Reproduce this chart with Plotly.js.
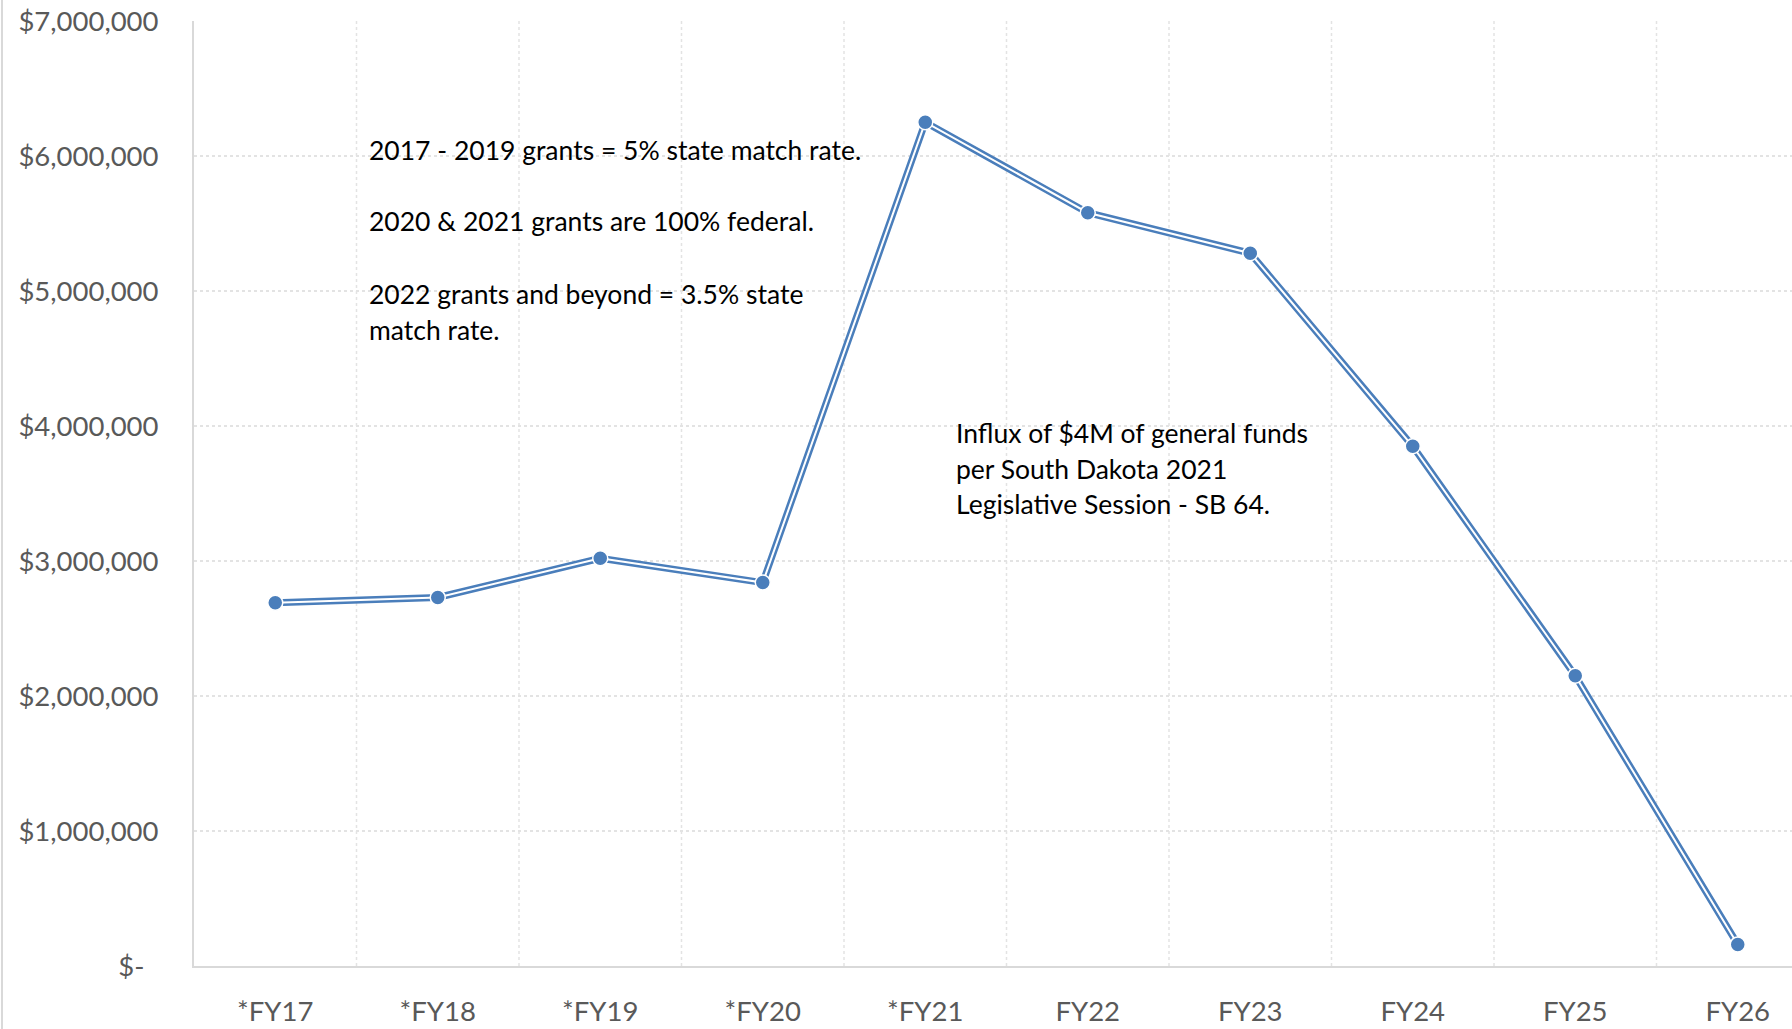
<!DOCTYPE html>
<html><head><meta charset="utf-8">
<script src="https://cdn.plot.ly/plotly-3.0.1.min.js"></script>
<style>html,body{margin:0;padding:0;background:#fff}#chart{width:1792px;height:1029px}</style>
</head><body><div id="chart"></div>
<script>
const categories = ["*FY17","*FY18","*FY19","*FY20","*FY21","FY22","FY23","FY24","FY25","FY26"];
const values = [2690000, 2730000, 3020000, 2840000, 6250000, 5580000, 5280000, 3850000, 2150000, 160000];
const yTickVals = [0,1000000,2000000,3000000,4000000,5000000,6000000,7000000];
const yTickText = ["$-\u00A0\u00A0","$1,000,000","$2,000,000","$3,000,000","$4,000,000","$5,000,000","$6,000,000","$7,000,000"];
const noteLines1 = ["2017 - 2019 grants = 5% state match rate.","2020 & 2021 grants are 100% federal.","2022 grants and beyond = 3.5% state","match rate."];
const noteLines2 = ["Influx of $4M of general funds","per South Dakota 2021","Legislative Session - SB 64."];

const blue = "#4a7ebb";
const xIdx = categories.map((c,i)=>i);
const traces = [
  {x:xIdx, y:values, mode:"lines", line:{color:blue, width:7}, hoverinfo:"skip", showlegend:false},
  {x:xIdx, y:values, mode:"lines", line:{color:"#ffffff", width:2}, hoverinfo:"skip", showlegend:false},
  {x:xIdx, y:values, mode:"markers", marker:{color:blue, size:15, line:{color:"#ffffff", width:1.5}}, showlegend:false}
];

const fontFam = "Lato, 'Open Sans', sans-serif";
const L = 194, catW = 162.5;
const px2x = p => -0.5 + (p - L)/catW;
const py2y = p => (966 - p)/135*1e6;

const ann = [];
const n1y = [150, 221, 294, 330];
noteLines1.forEach((t,i)=>ann.push({text:t, x:px2x(367), y:py2y(n1y[i]), xref:"x", yref:"y", xanchor:"left", yanchor:"middle", showarrow:false, font:{family:fontFam, size:26.5, color:"#000"}}));
const n2y = [433, 469, 504];
noteLines2.forEach((t,i)=>ann.push({text:t, x:px2x(954), y:py2y(n2y[i]), xref:"x", yref:"y", xanchor:"left", yanchor:"middle", showarrow:false, font:{family:fontFam, size:26.5, color:"#000"}}));

const layout = {
  width:1792, height:1029,
  margin:{l:194, r:0, t:21, b:63},
  paper_bgcolor:"#fff", plot_bgcolor:"#fff",
  font:{family:fontFam, color:"#595959"},
  xaxis:{
    range:[-0.5, -0.5 + (1792-194)/catW],
    tickvals:xIdx, ticktext:categories,
    showgrid:false, zeroline:false,
    showline:true, linecolor:"#d9d9d9", linewidth:2,
    ticks:"", tickfont:{size:27.5, color:"#595959", family:fontFam},
    ticklabelstandoff:20, fixedrange:true
  },
  yaxis:{
    range:[0,7000000],
    tickvals:yTickVals, ticktext:yTickText,
    showgrid:true, gridcolor:"#e3e3e3", griddash:"dot", gridwidth:1.5,
    zeroline:false, showline:true, linecolor:"#d9d9d9", linewidth:2,
    ticks:"", tickfont:{size:27.5, color:"#595959", family:fontFam},
    ticklabelstandoff:28, fixedrange:true
  },
  shapes:[
    ...categories.map((c,i)=>({type:"line", xref:"x", yref:"paper", x0:i+0.5, x1:i+0.5, y0:0, y1:1, line:{color:"#e3e3e3", width:1.5, dash:"dot"}, layer:"below"})),
    {type:"line", xref:"paper", yref:"paper", x0:-192/1598, x1:-192/1598, y0:-63/945, y1:1+21/945, line:{color:"#d9d9d9", width:2}}
  ],
  annotations:ann,
  showlegend:false
};
Plotly.newPlot("chart", traces, layout, {displayModeBar:false, staticPlot:true});
</script></body></html>
